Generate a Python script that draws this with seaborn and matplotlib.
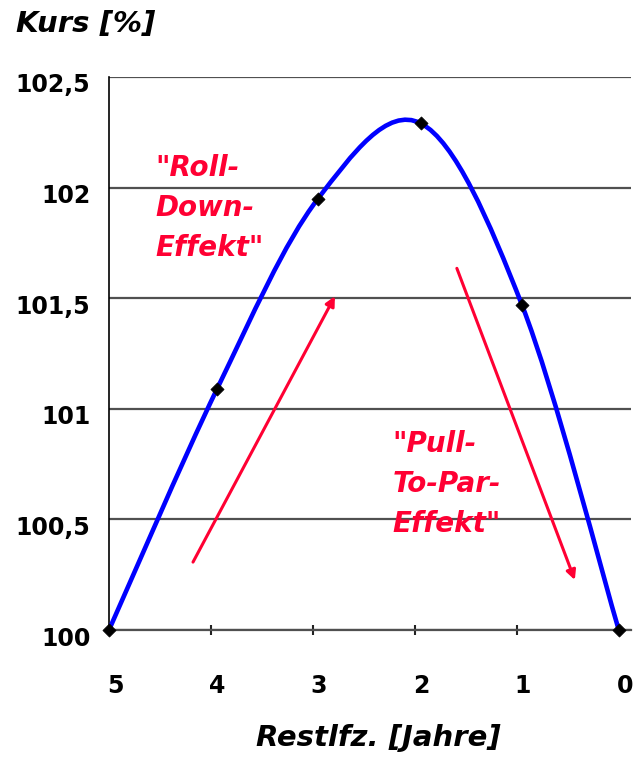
import numpy as np
import matplotlib
matplotlib.use("Agg")
import matplotlib.pyplot as plt
from matplotlib.path import Path
from matplotlib.patches import PathPatch
from matplotlib.transforms import ScaledTranslation
import seaborn as sns

# Bond price over remaining maturity
restlaufzeit = [5, 3.94, 2.95, 1.94, 0.95, 0]
kurs = [100, 101.09, 101.95, 102.29, 101.47, 100]

x_ticks = [5, 4, 3, 2, 1, 0]
x_tick_labels = ["5", "4", "3", "2", "1", "0"]
y_ticks = [100, 100.5, 101, 101.5, 102, 102.5]
y_tick_labels = ["100", "100,5", "101", "101,5", "102", "102,5"]

roll_down_label = '"Roll-\nDown-\nEffekt"'
pull_to_par_label = '"Pull-\nTo-Par-\nEffekt"'

RED = "#FF0033"
BLUE = "#0000FF"
GRID = "#505050"

sns.set_theme(style="white")
plt.rcParams["font.family"] = ["DejaVu Sans"]
plt.rcParams["text.color"] = "black"
plt.rcParams["xtick.color"] = "black"
plt.rcParams["ytick.color"] = "black"

fig = plt.figure(figsize=(6.33, 7.57), dpi=100)
ax = fig.add_axes([109 / 633, 1 - 630 / 757, 522 / 633, 553 / 757])


def smoothed_path(xs, ys):
    """Bezier path through the points, tangents from neighbouring points."""
    pts = np.column_stack([xs, ys]).astype(float)
    n = len(pts)
    verts = [pts[0]]
    codes = [Path.MOVETO]
    for i in range(n - 1):
        p0 = pts[i - 1] if i > 0 else pts[i]
        p1 = pts[i]
        p2 = pts[i + 1]
        p3 = pts[i + 2] if i + 2 < n else pts[i + 1]
        verts += [p1 + (p2 - p0) / 6, p2 - (p3 - p1) / 6, p2]
        codes += [Path.CURVE4] * 3
    return Path(verts, codes)


curve = PathPatch(smoothed_path(restlaufzeit, kurs), facecolor="none",
                  edgecolor=BLUE, lw=3.3, capstyle="round", zorder=3)
ax.add_patch(curve)

sns.scatterplot(x=restlaufzeit, y=kurs, marker="D", s=45, color="black",
                edgecolor="black", linewidth=0.5, zorder=5, clip_on=False, ax=ax)

ax.set_xlim(5, -0.12)
ax.set_ylim(100, 102.5)

ax.set_xticks(x_ticks)
ax.set_xticklabels(x_tick_labels, fontsize=17, fontweight="bold", color="black")
ax.set_yticks(y_ticks)
ax.set_yticklabels(y_tick_labels, fontsize=17, fontweight="bold", color="black")

ax.grid(axis="y", color=GRID, lw=1.6)
ax.grid(axis="x", visible=False)
for side in ("top", "right"):
    ax.spines[side].set_visible(False)
ax.spines["left"].set_color("black")
ax.spines["left"].set_linewidth(1.2)
ax.spines["bottom"].set_color(GRID)
ax.spines["bottom"].set_linewidth(1.6)

ax.tick_params(axis="x", direction="inout", length=7, width=1.5, color="#222222",
               pad=28, bottom=True)
ax.tick_params(axis="y", length=0, pad=13.5)

for lbl in ax.get_xticklabels():
    lbl.set_transform(lbl.get_transform() + ScaledTranslation(6 / 100, 0, fig.dpi_scale_trans))
for lbl in ax.get_yticklabels():
    lbl.set_transform(lbl.get_transform() + ScaledTranslation(0, -6 / 100, fig.dpi_scale_trans))

ax.set_xlabel("")
ax.set_ylabel("")

# Effect labels and arrows
ax.text(4.549, 102.154, roll_down_label, color=RED, fontsize=20,
        fontweight="bold", fontstyle="italic", ha="left", va="top", linespacing=1.55)
ax.text(2.216, 100.903, pull_to_par_label, color=RED, fontsize=20,
        fontweight="bold", fontstyle="italic", ha="left", va="top", linespacing=1.55)

arrow_style = dict(arrowstyle="-|>", color=RED, lw=2.2, mutation_scale=14,
                   shrinkA=0, shrinkB=0)
ax.annotate("", xy=(2.784, 101.509), xytext=(4.176, 100.307), arrowprops=arrow_style)
ax.annotate("", xy=(0.431, 100.226), xytext=(1.588, 101.635), arrowprops=arrow_style)

fig.text(16 / 633, 1 - 10 / 757, "Kurs [%]", fontsize=21, fontweight="bold",
         fontstyle="italic", ha="left", va="top", color="black")
fig.text(378 / 633, 1 - 724 / 757, "Restlfz. [Jahre]", fontsize=21, fontweight="bold",
         fontstyle="italic", ha="center", va="top", color="black")

fig.savefig("out.png", dpi=100)
